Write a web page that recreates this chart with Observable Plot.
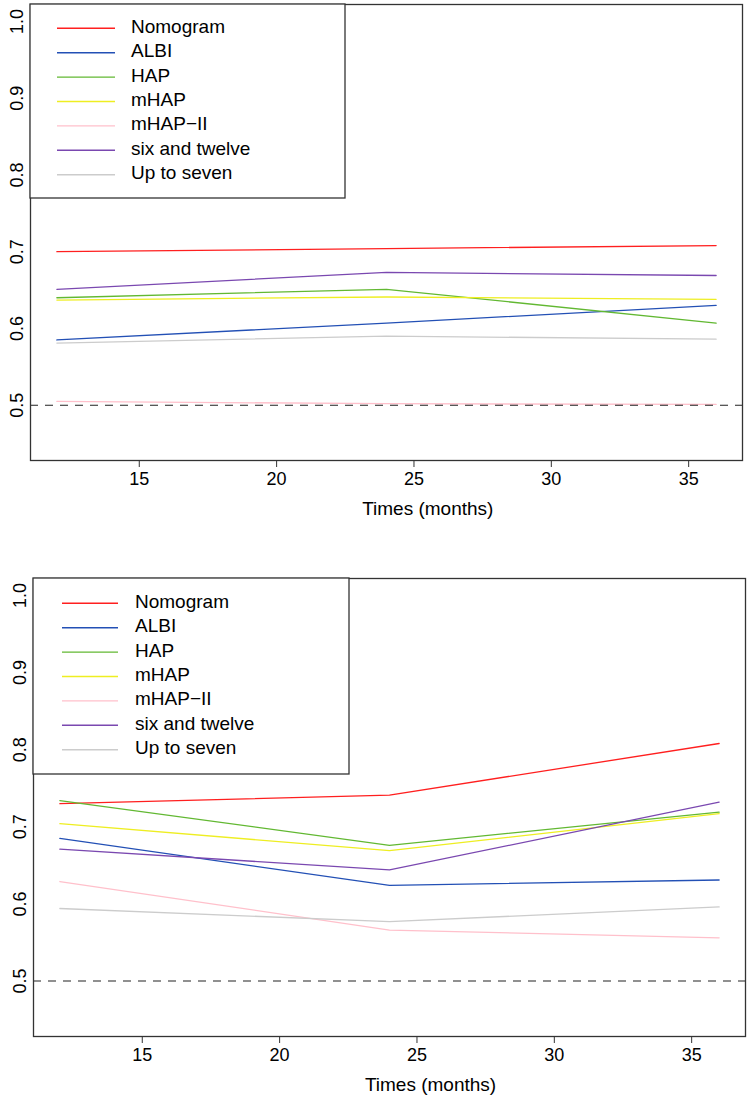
<!DOCTYPE html>
<html>
<head>
<meta charset="utf-8">
<script src="https://cdn.jsdelivr.net/npm/d3@7"></script>
<script src="https://cdn.jsdelivr.net/npm/@observablehq/plot@0.6"></script>
<style>
  body { margin: 0; background: #fff; }
  .panel { position: relative; width: 750px; }
  .legend { position: absolute; }
</style>
</head>
<body>
<div id="top" class="panel"></div>
<div id="bottom" class="panel"></div>
<script>
// ---------- data ----------
const months = [12, 24, 36];
const models = ["Nomogram", "ALBI", "HAP", "mHAP", "mHAP\u2212II", "six and twelve", "Up to seven"];
const colors = ["#ff1f1f", "#2350b5", "#62b832", "#eeee22", "#ffc0cb", "#7a48b0", "#cccccc"];
const xTicks = [15, 20, 25, 30, 35];
const yTicks = [0.5, 0.6, 0.7, 0.8, 0.9, 1.0];
const xLabel = "Times (months)";
const reference = 0.5;

// top panel
const topNomogram = [0.700, 0.704, 0.708];
const topALBI = [0.585, 0.607, 0.630];
const topHAP = [0.640, 0.651, 0.607];
const topMHAP = [0.637, 0.641, 0.638];
const topMHAPII = [0.505, 0.502, 0.501];
const topSixTwelve = [0.651, 0.673, 0.669];
const topUpToSeven = [0.581, 0.590, 0.586];

// bottom panel
const botNomogram = [0.730, 0.741, 0.808];
const botALBI = [0.685, 0.624, 0.631];
const botHAP = [0.734, 0.676, 0.719];
const botMHAP = [0.704, 0.669, 0.717];
const botMHAPII = [0.629, 0.566, 0.556];
const botSixTwelve = [0.671, 0.644, 0.732];
const botUpToSeven = [0.594, 0.577, 0.596];

const topSeries = [topNomogram, topALBI, topHAP, topMHAP, topMHAPII, topSixTwelve, topUpToSeven];
const botSeries = [botNomogram, botALBI, botHAP, botMHAP, botMHAPII, botSixTwelve, botUpToSeven];

const FONT = "'Liberation Sans', Arial, Helvetica, sans-serif";

function drawPanel(el, series, cfg) {
  const data = models.flatMap((m, i) => months.map((t, j) => ({model: m, time: t, auc: series[i][j]})));
  const chart = Plot.plot({
    width: 750,
    height: cfg.height,
    marginTop: cfg.mt, marginBottom: cfg.mb, marginLeft: cfg.ml, marginRight: cfg.mr,
    style: {fontFamily: FONT, fontSize: "18px", background: "white", color: "#000", overflow: "visible"},
    x: {domain: [11.04, 36.96]},
    y: {domain: [0.428, 1.022]},
    color: {domain: models, range: colors},
    marks: [
      Plot.lineY(data, {x: "time", y: "auc", z: "model", stroke: "model", strokeWidth: 1.3}),
      Plot.ruleY([reference], {stroke: "#222", strokeDasharray: "8,7", strokeWidth: 1.2}),
      Plot.frame({stroke: "#333", strokeWidth: 1.3}),
      Plot.axisX({ticks: xTicks, tickSize: 7, tickPadding: 5, label: null, stroke: "#333", fontSize: 18, fill: "#000"}),
      Plot.axisY({ticks: yTicks, tickSize: 0, tickPadding: 8, tickRotate: -90, tickFormat: ".1f", label: null, fontSize: 18, fill: "#000"}),
      Plot.text([xLabel], {text: d => d, frameAnchor: "bottom", lineAnchor: "top", dy: 40.7, dx: cfg.titleDx, fontSize: 19, fill: "#000"})
    ]
  });
  el.style.height = cfg.height + "px";
  el.appendChild(chart);

  // legend box inside the plot
  const L = cfg.legend;
  const svg = d3.select(el).append("svg")
    .attr("class", "legend")
    .attr("width", L.w + 2).attr("height", L.h + 2)
    .style("left", (L.left - 1) + "px").style("top", (L.top - 1) + "px")
    .style("font-family", FONT);
  svg.append("rect").attr("x", 1).attr("y", 1).attr("width", L.w).attr("height", L.h)
    .attr("fill", "white").attr("stroke", "#333").attr("stroke-width", 1.3);
  const rows = svg.selectAll("g").data(models).join("g")
    .attr("transform", (d, i) => `translate(1, ${1 + L.row0 + i * L.step})`);
  rows.append("line").attr("x1", L.x1).attr("x2", L.x2).attr("y1", 0).attr("y2", 0)
    .attr("stroke", (d, i) => colors[i]).attr("stroke-width", 1.4);
  rows.append("text").attr("x", L.tx).attr("y", 4.5).attr("font-size", 19).attr("fill", "#000").text(d => d);
}

drawPanel(document.getElementById("top"), topSeries, {
  height: 548, mt: 4, mb: 88, ml: 30, mr: 8, titleDx: 41.3,
  legend: {left: 30, top: 4, w: 315, h: 194, x1: 27, x2: 85, tx: 101, row0: 24.3, step: 24.4}
});
drawPanel(document.getElementById("bottom"), botSeries, {
  height: 549, mt: 30, mb: 61, ml: 33, mr: 5, titleDx: 41,
  legend: {left: 33, top: 30, w: 316, h: 196, x1: 29, x2: 85, tx: 102, row0: 25.3, step: 24.4}
});
</script>
</body>
</html>
